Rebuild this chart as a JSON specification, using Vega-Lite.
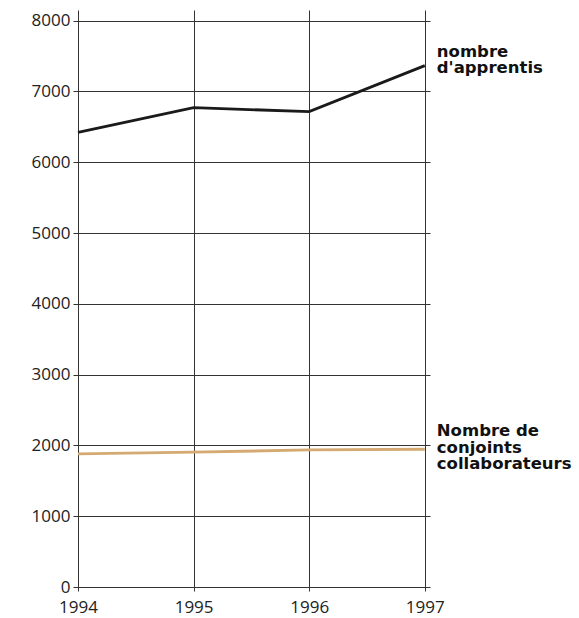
{
  "$schema": "https://vega.github.io/schema/vega-lite/v6.json",
  "width": 352,
  "height": 577,
  "autosize": {"type": "none"},
  "padding": {"left": 78, "top": 10, "right": 149, "bottom": 31},
  "background": "white",
  "config": {
    "view": {"stroke": null},
    "font": "Open Sans"
  },
  "data": {
    "values": [
      {"year": 1994, "series": "apprentis", "value": 6420},
      {"year": 1995, "series": "apprentis", "value": 6770},
      {"year": 1996, "series": "apprentis", "value": 6714},
      {"year": 1997, "series": "apprentis", "value": 7364},
      {"year": 1994, "series": "conjoints", "value": 1880},
      {"year": 1995, "series": "conjoints", "value": 1904},
      {"year": 1996, "series": "conjoints", "value": 1936},
      {"year": 1997, "series": "conjoints", "value": 1946}
    ]
  },
  "encoding": {
    "x": {
      "field": "year",
      "type": "quantitative",
      "scale": {"domain": [1994, 1997.045], "nice": false, "zero": false},
      "axis": {
        "title": null,
        "values": [1994, 1995, 1996, 1997],
        "format": "d",
        "domain": false,
        "grid": true,
        "gridColor": "#333333",
        "gridWidth": 1,
        "gridOpacity": 1,
        "tickColor": "#333333",
        "tickSize": 4,
        "labelFontSize": 17,
        "labelColor": "#222222",
        "labelPadding": 8,
        "labelFont": "Open Sans",
        "labelFlush": false
      }
    },
    "y": {
      "field": "value",
      "type": "quantitative",
      "scale": {"domain": [0, 8150], "nice": false},
      "axis": {
        "title": null,
        "values": [0, 1000, 2000, 3000, 4000, 5000, 6000, 7000, 8000],
        "format": "d",
        "domain": false,
        "grid": true,
        "gridColor": "#333333",
        "gridWidth": 1,
        "gridOpacity": 1,
        "tickColor": "#333333",
        "tickSize": 5,
        "labelFontSize": 17,
        "labelColor": "#222222",
        "labelPadding": 3,
        "labelFont": "Open Sans"
      }
    }
  },
  "layer": [
    {
      "mark": {"type": "line", "strokeWidth": 2.8},
      "encoding": {
        "color": {
          "field": "series",
          "type": "nominal",
          "scale": {"domain": ["apprentis", "conjoints"], "range": ["#1a1a1a", "#d4aa72"]},
          "legend": null
        }
      }
    },
    {
      "transform": [{"filter": "datum.year == 1997 && datum.series == 'apprentis'"}],
      "mark": {
        "type": "text",
        "align": "left",
        "baseline": "middle",
        "dx": 12,
        "dy": -14,
        "fontSize": 16.5,
        "fontWeight": "bold",
        "font": "DejaVu Sans",
        "lineHeight": 16,
        "color": "#111111",
        "text": ["nombre", "d'apprentis"]
      },
      "encoding": {}
    },
    {
      "transform": [{"filter": "datum.year == 1997 && datum.series == 'conjoints'"}],
      "mark": {
        "type": "text",
        "align": "left",
        "baseline": "middle",
        "dx": 12,
        "dy": -18,
        "fontSize": 16.5,
        "fontWeight": "bold",
        "font": "DejaVu Sans",
        "lineHeight": 16.5,
        "color": "#111111",
        "text": ["Nombre de", "conjoints", "collaborateurs"]
      },
      "encoding": {}
    }
  ]
}
